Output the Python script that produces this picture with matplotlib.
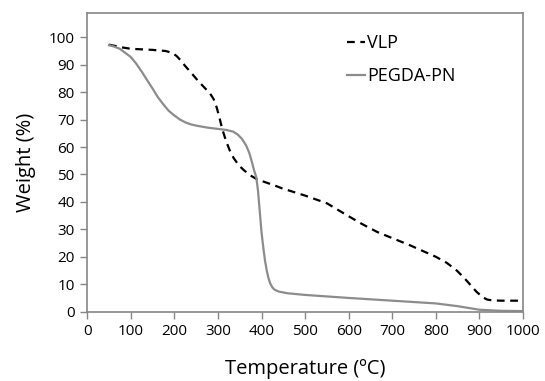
import numpy as np
import matplotlib
matplotlib.use("Agg")
import matplotlib.pyplot as plt

plt.rcParams['font.family'] = ['Open Sans', 'DejaVu Sans']

# VLP curve (dashed black)
vlp_temp = [50, 80, 100, 150, 180, 195, 205, 215, 225, 240, 255, 270, 282, 290, 297, 303, 310,
            318, 327, 336, 348, 360, 375, 390, 410, 430, 446, 500, 550, 590, 630, 666, 700,
            742, 800, 825, 848, 865, 878, 893, 908, 918, 930, 950, 1000]
vlp_weight = [97.3, 96.3, 95.8, 95.4, 95.0, 94.3, 93.2, 91.5, 89.5, 86.8, 84.0, 81.5, 79.5, 77.5,
              74.5, 71.0, 66.5, 62.5, 58.8, 56.0, 53.3, 51.5, 49.6, 48.2, 47.1, 46.0, 45.0,
              42.3, 39.5, 35.7, 32.0, 29.0, 26.8, 24.1, 20.0, 17.8, 15.0, 12.3, 10.0, 7.3,
              5.2, 4.4, 4.1, 4.0, 4.0]

# PEGDA-PN curve (solid gray)
peg_temp = [50, 60, 75, 90, 100, 112, 125, 137, 150, 162, 175, 187, 200, 212, 225, 237, 250,
            275, 300, 320, 335, 345, 355, 365, 372, 378, 383, 388, 392, 396, 400, 404, 408,
            412, 416, 420, 425, 430, 440, 460, 500, 600, 700, 800, 850, 900, 950, 1000]
peg_weight = [97.1, 96.7, 95.8, 94.0, 92.8, 90.5, 87.5, 84.5, 81.3, 78.2, 75.5, 73.2, 71.5,
              70.1, 69.0, 68.3, 67.8, 67.1, 66.6, 66.2, 65.6, 64.6, 63.0, 60.5, 57.8, 54.5,
              51.5, 49.0, 44.0, 36.5, 29.0, 23.5, 18.6, 15.0, 12.2, 10.3, 8.8, 8.0, 7.3, 6.7,
              6.1, 5.0, 4.0, 3.0, 2.0, 0.7, 0.3, 0.2]

fig = plt.figure(figsize=(5.45, 3.81), dpi=100)
ax = fig.add_axes([0.160, 0.182, 0.7996, 0.785])

ax.plot(vlp_temp, vlp_weight, color='black', lw=1.6, ls=(0, (3.5, 2.5)), label='VLP')
ax.plot(peg_temp, peg_weight, color='#8c8c8c', lw=1.6, label='PEGDA-PN')

ax.set_xlim(0, 1000)
ax.set_ylim(0, 109)
ax.set_xticks(np.arange(0, 1001, 100))
ax.set_yticks(np.arange(0, 101, 10))
ax.tick_params(direction='out', length=5, width=1, color='#868686', labelsize=11, pad=4)
for s in ax.spines.values():
    s.set_color('#868686')
    s.set_linewidth(1.2)

ax.set_xlabel('Temperature (ºC)', fontsize=14.5, labelpad=14)
ax.set_ylabel('Weight (%)', fontsize=14.5, labelpad=9)

ax.legend(loc='upper left', bbox_to_anchor=(0.596, 0.927), frameon=False, fontsize=13,
          handlelength=1.0, handletextpad=0.1, labelspacing=0.8,
          borderpad=0, borderaxespad=0)

fig.savefig('out.png', dpi=100)
